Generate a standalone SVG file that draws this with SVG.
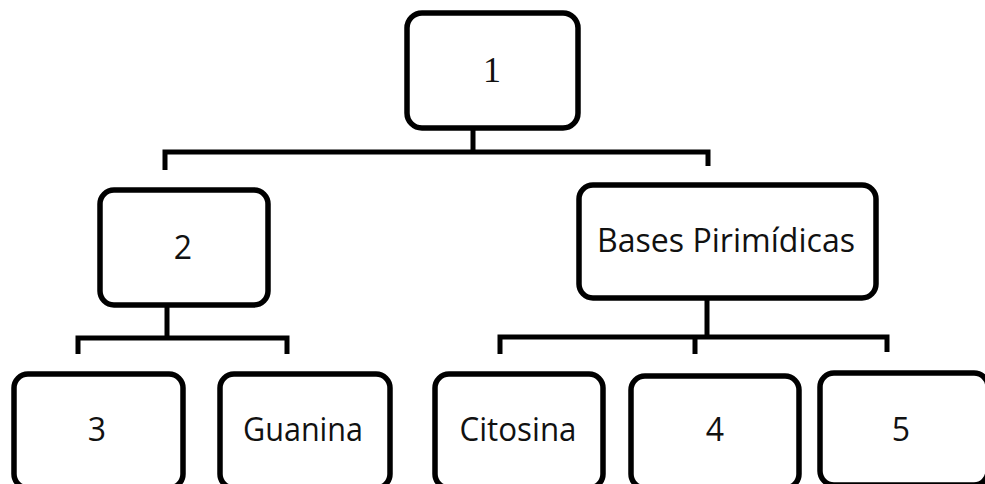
<svg xmlns="http://www.w3.org/2000/svg" width="985" height="484" viewBox="0 0 985 484">
  <style>
    .box { fill: #ffffff; stroke: #000000; stroke-width: 5.5; }
    .link { fill: none; stroke: #000000; stroke-width: 5; stroke-linejoin: miter; stroke-linecap: butt; }
    .lbl { font-family: "Open Sans", "Liberation Sans", sans-serif; font-size: 32px; fill: #111111; text-anchor: middle; }
    .num { font-family: "Liberation Serif", "DejaVu Serif", serif; font-size: 36px; fill: #111111; text-anchor: middle; }
  </style>
  <rect width="985" height="484" fill="#ffffff"/>

  <!-- tree connectors -->
  <g id="connectors">
    <path class="link" d="M473,128 V152 M165,170 V152 H708 V166"/>
    <path class="link" d="M167,305 V338 M78,354 V338 H287 V354"/>
    <path class="link" d="M707,298 V338 M500,354 V337 H887 V352 M695,337 V354"/>
  </g>

  <g id="node-1">
    <rect class="box" x="407" y="13" width="171" height="115" rx="15"/>
    <text class="num" x="492" y="82">1</text>
  </g>

  <g id="node-2">
    <rect class="box" x="100" y="190" width="168" height="115" rx="14"/>
    <text class="lbl" x="183" y="259">2</text>
  </g>

  <g id="node-pirimidicas">
    <rect class="box" x="579" y="185" width="297" height="113" rx="14"/>
    <text class="lbl" x="726" y="252" textLength="258" lengthAdjust="spacingAndGlyphs">Bases Pirimídicas</text>
  </g>

  <g id="node-3">
    <rect class="box" x="14" y="374" width="169" height="114" rx="14"/>
    <text class="lbl" x="97" y="441">3</text>
  </g>

  <g id="node-guanina">
    <rect class="box" x="220" y="374" width="170" height="114" rx="14"/>
    <text class="lbl" x="303" y="441" textLength="120" lengthAdjust="spacingAndGlyphs">Guanina</text>
  </g>

  <g id="node-citosina">
    <rect class="box" x="435" y="374" width="168" height="114" rx="14"/>
    <text class="lbl" x="518" y="441" textLength="117" lengthAdjust="spacingAndGlyphs">Citosina</text>
  </g>

  <g id="node-4">
    <rect class="box" x="631" y="376" width="168" height="112" rx="14"/>
    <text class="lbl" x="715" y="441">4</text>
  </g>

  <g id="node-5">
    <rect class="box" x="820" y="373" width="168" height="112" rx="14"/>
    <text class="lbl" x="901" y="441">5</text>
  </g>
</svg>
